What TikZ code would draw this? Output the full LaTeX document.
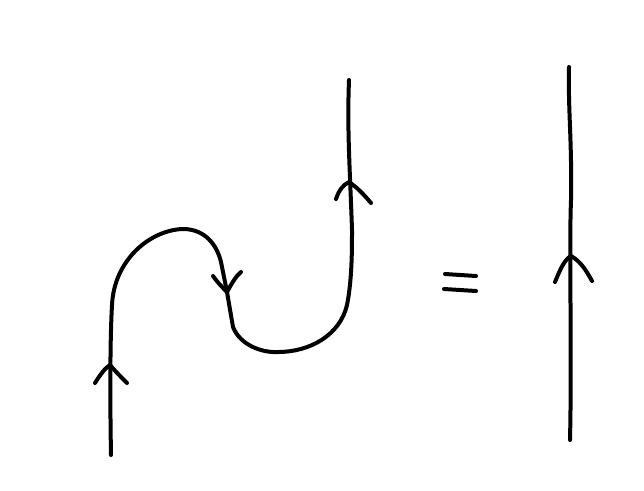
\documentclass[tikz,border=0pt]{standalone}
\begin{document}
\begin{tikzpicture}[x=1pt,y=-1pt,
  strand/.style={line width=4pt,line cap=round,line join=round,black},
  chev/.style={line width=4pt,line cap=round,line join=round,black}]
\useasboundingbox (0,0) rectangle (644,490);
% snake strand
\coordinate (s0) at (111,455);
\coordinate (s1) at (112,305);
\coordinate (top) at (183,229);
\coordinate (d1) at (227,292);
\coordinate (bot) at (278,352);
\coordinate (u1) at (352,230);
\coordinate (s2) at (349,80);
\draw[strand] (s0) .. controls (110,400) and (110,340) .. (s1)
  .. controls (114,260) and (150,230) .. (top)
  .. controls (205,229) and (217,245) .. (221,262)
  -- (d1) -- (233,327)
  .. controls (240,345) and (262,353) .. (bot)
  .. controls (310,352) and (340,335) .. (347,305)
  .. controls (352,280) and (352,250) .. (u1)
  .. controls (350,170) and (347,130) .. (s2);
% chevrons on snake
\coordinate (a1) at (110,365);
\draw[chev] (95,383) .. controls (100,375) and (105,368) .. (a1) .. controls (116,372) and (122,378) .. (127,383);
\draw[chev] (213,276) .. controls (218,283) and (223,288) .. (d1) .. controls (232,283) and (236,276) .. (241,272);
\coordinate (a3) at (349,182);
\draw[chev] (336,199) .. controls (339,190) and (343,185) .. (a3) .. controls (358,188) and (365,196) .. (371,203);
% equals sign
\coordinate (e1) at (445,274);
\coordinate (e2) at (476,276);
\coordinate (e3) at (444,289);
\coordinate (e4) at (476,291);
\draw[strand] (e1) -- (e2);
\draw[strand] (e3) -- (e4);
% identity strand
\coordinate (r0) at (570,440);
\coordinate (r1) at (569,67);
\draw[strand] (r0) .. controls (572,350) and (569,250) .. (571,200) .. controls (572,140) and (568,110) .. (r1);
\coordinate (a4) at (571,256);
\draw[chev] (555,282) .. controls (560,270) and (564,260) .. (a4) .. controls (582,262) and (588,274) .. (592,281);
\end{tikzpicture}
\end{document}
